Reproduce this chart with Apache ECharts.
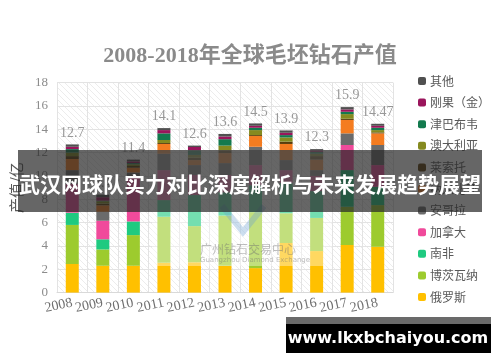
<!DOCTYPE html>
<html><head><meta charset="utf-8">
<script src="https://cdn.jsdelivr.net/npm/echarts@6/dist/echarts.min.js"></script>
<style>html,body{margin:0;padding:0;background:#fff}#c{width:500px;height:362px}</style>
</head><body><div id="c"></div>
<script>
// ---- data ----
const years = ['2008','2009','2010','2011','2012','2013','2014','2015','2016','2017','2018'];
const totals = [12.7, 8.4, 11.4, 14.1, 12.6, 13.6, 14.5, 13.9, 12.3, 15.9, 14.47];
const totalLabels = ['12.7','8.4','11.4','14.1','12.6','13.6','14.5','13.9','12.3','15.9','14.47'];
const russia      = [2.45, 2.3, 2.3, 2.56, 2.6, 2.3, 2.1, 4.25, 3.56, 4.08, 3.93];
const botswana    = [3.35, 1.4, 2.63, 3.94, 3.1, 4.3, 4.8, 2.55, 2.84, 3.28, 3.57];
const southAfrica = [1.05, 0.87, 1.17, 1.43, 2.66, 2.0, 2.3, 2.59, 2.3, 3.14, 1.57];
const canada      = [2.45, 1.59, 3.9, 2.57, 1.72, 1.48, 1.73, 1.11, 1.3, 2.15, 1.86];
const angola      = [1.2, 0.77, 0.3, 1.4, 0.85, 1.02, 1.57, 0.86, 0.5, 1.0, 1.72];
const namibia     = [0.95, 0.55, 0.4, 0.84, 0.43, 0.86, 0.92, 1.38, 0.9, 1.15, 1.0];
const lesotho     = [0.25, 0.15, 0.15, 0.08, 0.2, 0.24, 0.08, 0.2, 0.3, 0.1, 0.08];
const australia   = [0.3, 0.2, 0.15, 0.26, 0.24, 0.4, 0.43, 0.36, 0.2, 0.4, 0.2];
const zimbabwe    = [0.3, 0.05, 0.1, 0.57, 0.4, 0.55, 0.2, 0.2, 0.15, 0.2, 0.2];
const drc         = [0.2, 0.3, 0.15, 0.28, 0.28, 0.23, 0.17, 0.2, 0.15, 0.2, 0.17];
const others      = [0.2, 0.22, 0.15, 0.17, 0.12, 0.22, 0.2, 0.2, 0.1, 0.2, 0.17];
const seriesNames = ['俄罗斯','博茨瓦纳','南非','加拿大','安哥拉','纳米比亚','莱索托','澳大利亚','津巴布韦','刚果（金）','其他'];
const seriesValues = [russia, botswana, southAfrica, canada, angola, namibia, lesotho, australia, zimbabwe, drc, others];

// ---- style ----
const colors = ['#FFC000','#9DCB2E','#1FCA80','#F04A9B','#6B6B6B','#F47C20','#5A3D0A','#858A1F','#137A4E','#9A155C','#505050'];
const serif = '"Liberation Serif","Times New Roman",serif';
const cjk = '"Noto Sans CJK SC","Noto Sans",sans-serif';

function hatch(){
  const c = document.createElement('canvas'); c.width = 6; c.height = 6;
  const g = c.getContext('2d'); g.strokeStyle = '#ececec'; g.lineWidth = 1;
  g.beginPath(); g.moveTo(0,0); g.lineTo(6,6); g.stroke();
  g.beginPath(); g.moveTo(5,-1); g.lineTo(7,1); g.stroke();
  g.beginPath(); g.moveTo(-1,5); g.lineTo(1,7); g.stroke();
  return c;
}

const chart = echarts.init(document.getElementById('c'), null, {renderer:'canvas'});
const series = seriesNames.map((n,i)=>({
  name:n, type:'bar', stack:'total', barWidth:13, data:seriesValues[i],
  itemStyle:{color:colors[i]}, emphasis:{disabled:true}
}));
series.push({
  name:'合计', type:'scatter', data:totals, symbolSize:1,
  itemStyle:{color:'rgba(0,0,0,0)'},
  label:{show:true, position:'top', distance:4, color:'#7f7f7f', fontFamily:serif, fontSize:14,
    formatter:p=>totalLabels[p.dataIndex]}
});

chart.setOption({
  animation:false,
  backgroundColor:'#fff',
  title:{text:'2008-2018年全球毛坯钻石产值', left:'center', top:40,
    textStyle:{fontFamily:serif+',"Noto Sans CJK SC"', fontSize:22, fontWeight:'bold', color:'#8a8a8a'}},
  legend:{orient:'vertical', left:413, top:70, itemWidth:8, itemHeight:8, itemGap:9.6,
    data:seriesNames.slice().reverse(),
    textStyle:{fontFamily:cjk, fontSize:12, color:'#595959', lineHeight:12, padding:[0,0,0,-1]}},
  grid:{left:57, right:107, top:82.6, bottom:69.4, show:true, borderWidth:0,
    backgroundColor:{image:hatch(), repeat:'repeat'}},
  xAxis:{type:'category', data:years,
    axisLine:{lineStyle:{color:'#d9d9d9'}}, axisTick:{show:false},
    splitLine:{show:true, lineStyle:{color:'#e3e3e3'}},
    axisLabel:{interval:0, rotate:12, margin:10, color:'#6f6f6f', fontFamily:serif, fontSize:14}},
  yAxis:{type:'value', min:0, max:18, interval:2,
    name:'产值/亿', nameLocation:'middle', nameRotate:90, nameGap:30,
    nameTextStyle:{fontFamily:cjk, fontSize:15, color:'#595959'},
    axisLine:{show:false}, axisTick:{show:false},
    splitLine:{lineStyle:{color:'#e3e3e3'}},
    axisLabel:{margin:9, color:'#8c8c8c', fontFamily:serif, fontSize:13}},
  series:series,
  graphic:[
    {type:'rect', z:50, shape:{x:152, y:150, width:180, height:116}, style:{fill:'rgba(255,255,255,0.38)'}},
    {type:'polyline', z:51, shape:{points:[[222,206],[243,232],[264,206]]}, style:{stroke:'rgba(110,160,210,0.35)', lineWidth:6, fill:null}},
    {type:'text', z:51, left:200, top:243, style:{text:'广州钻石交易中心', font:'12px "Noto Sans CJK SC"', fill:'rgba(110,110,110,0.45)'}},
    {type:'text', z:51, left:200, top:257, style:{text:'Guangzhou Diamond Exchange', font:'7px "DejaVu Sans"', fill:'rgba(110,110,110,0.45)'}},
    {type:'rect', z:60, shape:{x:18, y:150, width:464, height:62}, style:{fill:'rgba(40,40,40,0.71)'}},
    {type:'text', z:61, x:250, y:184, style:{text:'武汉网球队实力对比深度解析与未来发展趋势展望', font:'bold 21px "Noto Sans CJK SC"', fill:'#fff', align:'center', verticalAlign:'middle'}},
    {type:'rect', z:60, shape:{x:286, y:317, width:205, height:8}, style:{fill:'#6a6a6a'}},
    {type:'rect', z:60, shape:{x:286, y:324, width:205, height:29}, style:{fill:'#000'}},
    {type:'text', z:61, x:388, y:339, style:{text:'www.lkxbchaiyou.com', font:'bold 16px "DejaVu Sans"', fill:'#fff', align:'center', verticalAlign:'middle'}}
  ]
});
</script></body></html>
